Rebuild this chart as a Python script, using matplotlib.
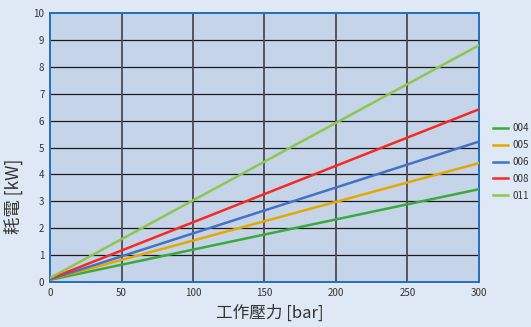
import matplotlib
matplotlib.use("Agg")
import matplotlib.pyplot as plt

plt.rcParams['font.family'] = ['Noto Sans CJK TC', 'DejaVu Sans']

# Data
pressure = [0, 300]
models = ["004", "005", "006", "008", "011"]
power = {
    "004": [0.08, 3.45],
    "005": [0.10, 4.42],
    "006": [0.10, 5.22],
    "008": [0.12, 6.42],
    "011": [0.15, 8.80],
}
colors = {
    "004": "#3aaa3a",
    "005": "#e5a800",
    "006": "#4472c4",
    "008": "#f52a22",
    "011": "#8cc850",
}
x_ticks = [0, 50, 100, 150, 200, 250, 300]
y_ticks = list(range(0, 11))

fig = plt.figure(figsize=(5.31, 3.27), dpi=100, facecolor="#dfe9f6")
ax = fig.add_axes([0.0942, 0.1376, 0.8078, 0.8226])
ax.set_facecolor("#c6d4ea")

for m in models:
    ax.plot(pressure, power[m], color=colors[m], lw=1.8, label=m, zorder=3)

ax.set_xlim(0, 300)
ax.set_ylim(0, 10)
ax.set_xticks(x_ticks)
ax.set_yticks(y_ticks)
ax.tick_params(length=0, labelsize=7, colors="#333333", pad=4)

for y in y_ticks[1:-1]:
    ax.axhline(y, color="#1a1a1a", lw=0.9, zorder=1)
for x in x_ticks[1:-1]:
    ax.axvline(x, color="#4a4a55", lw=1.3, zorder=1)

for s in ax.spines.values():
    s.set_color("#1f6fbf")
    s.set_linewidth(1.4)

ax.set_xlabel("工作壓力 [bar]", fontsize=12, color="#333333")
ax.xaxis.set_label_coords(0.513, -0.083)
ax.set_ylabel("耗電 [kW]", fontsize=12.5, color="#333333")
ax.yaxis.set_label_coords(-0.062, 0.32)

leg = ax.legend(loc="center left", bbox_to_anchor=(1.017, 0.446), frameon=False,
                fontsize=7, handlelength=1.5, handletextpad=0.5,
                labelspacing=0.7, borderaxespad=0.3)
for t in leg.get_texts():
    t.set_color("#333333")

fig.savefig("out.png", dpi=100, facecolor=fig.get_facecolor())
